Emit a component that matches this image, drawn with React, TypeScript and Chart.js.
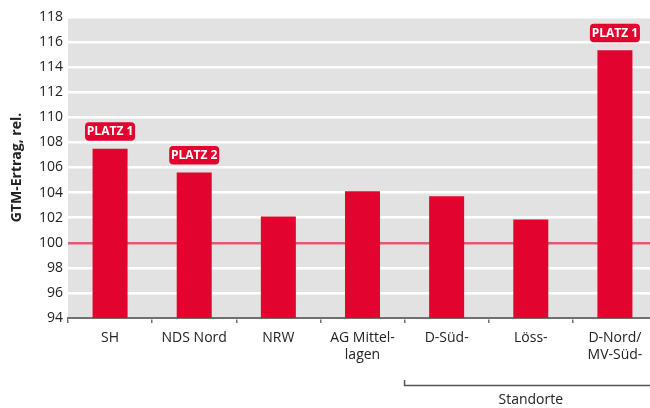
import React, { useEffect, useRef } from "react";
import { Chart, registerables } from "chart.js";

Chart.register(...registerables);

const categories: (string | string[])[] = [
  "SH",
  "NDS Nord",
  "NRW",
  ["AG Mittel-", "lagen"],
  "D-Süd-",
  "Löss-",
  ["D-Nord/", "MV-Süd-"],
];
const values = [107.5, 105.6, 102.1, 104.1, 103.7, 101.85, 115.35];
const badges: (string | null)[] = ["PLATZ 1", "PLATZ 2", null, null, null, null, "PLATZ 1"];
const yMin = 94;
const yMax = 118;
const yStep = 2;
const axisTitle = "GTM-Ertrag, rel.";
const groupLabel = "Standorte";
const groupStartIndex = 4;

const RED = "#e3032f";

const bgPlugin = {
  id: "bgPlugin",
  beforeDraw(chart: any) {
    const { ctx, chartArea } = chart;
    ctx.save();
    ctx.fillStyle = "#e2e2e2";
    ctx.fillRect(chartArea.left, chartArea.top - 1, chartArea.right - chartArea.left, chartArea.bottom - chartArea.top + 1);
    ctx.restore();
  },
};

const badgePlugin = {
  id: "badgePlugin",
  afterDatasetsDraw(chart: any) {
    const { ctx } = chart;
    const meta = chart.getDatasetMeta(0);
    ctx.save();
    meta.data.forEach((bar: any, i: number) => {
      const text = badges[i];
      if (!text) return;
      const w = 50;
      const h = 18.5;
      const x = bar.x - w / 2;
      const y = bar.y - 8 - h;
      ctx.fillStyle = RED;
      ctx.beginPath();
      (ctx as any).roundRect(x, y, w, h, 4);
      ctx.fill();
      ctx.fillStyle = "#ffffff";
      ctx.font = 'bold 12px "Liberation Sans Narrow", "Open Sans"';
      ctx.textAlign = "center";
      ctx.textBaseline = "middle";
      ctx.fillText(text, bar.x, y + h / 2 + 0.5);
    });
    ctx.restore();
  },
};

const groupPlugin = {
  id: "groupPlugin",
  afterDraw(chart: any) {
    const { ctx, chartArea } = chart;
    const xs = chart.scales.x;
    const start = (xs.getPixelForValue(groupStartIndex - 1) + xs.getPixelForValue(groupStartIndex)) / 2;
    const end = chartArea.right;
    ctx.save();
    ctx.strokeStyle = "#555555";
    ctx.lineWidth = 1.5;
    ctx.beginPath();
    ctx.moveTo(start, 380);
    ctx.lineTo(start, 385.5);
    ctx.lineTo(chart.width, 385.5);
    ctx.stroke();
    ctx.fillStyle = "#222222";
    ctx.font = '14px "Open Sans"';
    ctx.textAlign = "center";
    ctx.textBaseline = "middle";
    ctx.fillText(groupLabel, (start + end) / 2, 400);
    ctx.restore();
  },
};

export default function App() {
  const ref = useRef<HTMLCanvasElement>(null);
  useEffect(() => {
    if (!ref.current) return;
    Chart.defaults.font.family = '"Open Sans"';
    const chart = new Chart(ref.current, {
      type: "bar",
      data: {
        labels: categories as any,
        datasets: [
          {
            data: values,
            backgroundColor: RED,
            borderWidth: 0,
            categoryPercentage: 1,
            barPercentage: 0.416,
          },
        ],
      },
      options: {
        responsive: false,
        animation: false,
        layout: { padding: { top: 17, right: 3, left: 0, bottom: 0 } },
        plugins: { legend: { display: false }, tooltip: { enabled: false } },
        scales: {
          x: {
            grid: {
              drawOnChartArea: false,
              drawTicks: true,
              tickLength: 5,
              color: "#707070",
              lineWidth: 1.5,
            },
            border: { display: true, color: "#707070", width: 2 },
            ticks: {
              color: "#222222",
              font: { size: 14, family: '"Open Sans"' },
              padding: 7,
              maxRotation: 0,
              autoSkip: false,
            },
            afterFit(scale: any) {
              scale.height = 90;
            },
          },
          y: {
            min: yMin,
            max: yMax,
            grid: {
              drawTicks: false,
              lineWidth: 2.5,
              color: (c: any) => (c.tick && c.tick.value === 100 ? "#e05a70" : "#ffffff"),
            },
            border: { display: false },
            ticks: {
              stepSize: yStep,
              color: "#222222",
              font: { size: 14, family: '"Open Sans"' },
              padding: 5,
            },
            title: {
              display: true,
              text: axisTitle,
              color: "#222222",
              font: { size: 14, weight: "bold", family: '"Open Sans"' },
              padding: { top: 9, bottom: 0 },
            },
            afterFit(scale: any) {
              scale.width = 68;
            },
          },
        },
      },
      plugins: [bgPlugin, badgePlugin, groupPlugin],
    });
    return () => chart.destroy();
  }, []);
  return (
    <div style={{ position: "absolute", left: 0, top: 0, width: 650, height: 408, overflow: "hidden", background: "#fff" }}>
      <canvas ref={ref} width={660} height={408} style={{ display: "block" }} />
    </div>
  );
}
